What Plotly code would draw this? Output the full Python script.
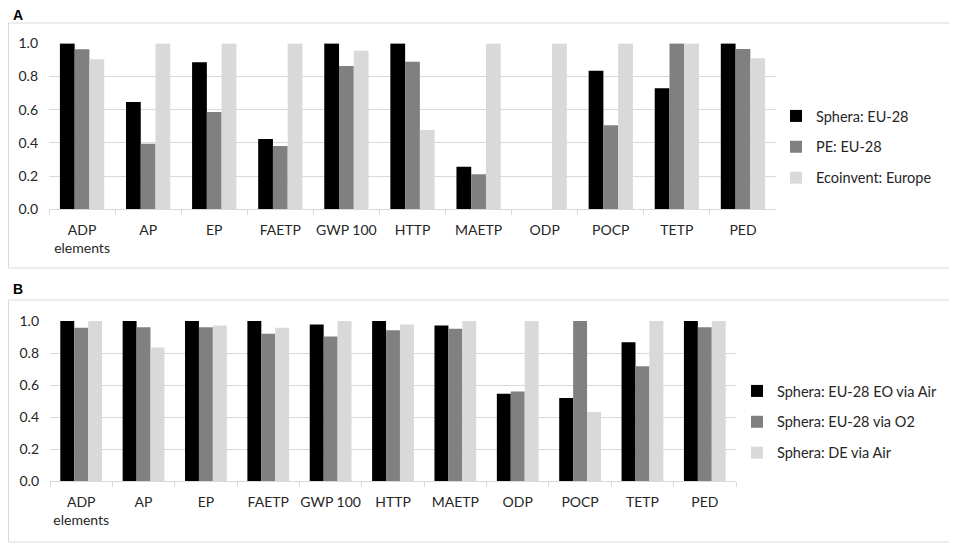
import plotly.graph_objects as go

# Categories (impact categories), shared by both panels
categories = ['ADP<br>elements', 'AP', 'EP', 'FAETP', 'GWP 100', 'HTTP',
              'MAETP', 'ODP', 'POCP', 'TETP', 'PED']

# Panel A: database comparison (normalised)
a_names = ['Sphera: EU-28', 'PE: EU-28', 'Ecoinvent: Europe']
a_sphera = [1.0, 0.646, 0.886, 0.424, 1.0, 1.0, 0.257, 0.0, 0.835, 0.729, 1.0]
a_pe = [0.964, 0.395, 0.586, 0.381, 0.863, 0.889, 0.211, 0.0, 0.506, 1.0, 0.966]
a_ecoinvent = [0.904, 1.0, 1.0, 1.0, 0.955, 0.478, 1.0, 1.0, 1.0, 1.0, 0.91]

# Panel B: production route comparison (normalised)
b_names = ['Sphera: EU-28 EO via Air', 'Sphera: EU-28 via O2', 'Sphera: DE via Air']
b_eu_air = [1.0, 1.0, 1.0, 1.0, 0.979, 1.0, 0.973, 0.546, 0.519, 0.867, 1.0]
b_eu_o2 = [0.958, 0.962, 0.962, 0.921, 0.904, 0.942, 0.952, 0.560, 1.0, 0.717, 0.962]
b_de_air = [1.0, 0.835, 0.973, 0.958, 1.0, 0.979, 1.0, 1.0, 0.431, 1.0, 1.0]

colors = ['#000000', '#808080', '#d9d9d9']
W, H = 957, 546
FONT = 'Lato'
OFF = 8  # the page body margin shifts the figure by 8px


def px_x(v):
    return (v - OFF) / W


def px_y(v):
    return 1 - (v - OFF) / H


fig = go.Figure()

for i, (name, vals) in enumerate(zip(a_names, [a_sphera, a_pe, a_ecoinvent])):
    fig.add_trace(go.Bar(x=categories, y=vals, name=name, marker_color=colors[i],
                         marker_line_width=0, xaxis='x', yaxis='y',
                         legend='legend', legendgroup='a%d' % i))

for i, (name, vals) in enumerate(zip(b_names, [b_eu_air, b_eu_o2, b_de_air])):
    fig.add_trace(go.Bar(x=categories, y=vals, name=name, marker_color=colors[i],
                         marker_line_width=0, xaxis='x2', yaxis='y2',
                         legend='legend2', legendgroup='b%d' % i))

xaxis_style = dict(type='category', showline=True, linecolor='#d9d9d9', linewidth=1,
                   ticks='outside', tickson='boundaries', ticklen=5, tickcolor='#d9d9d9',
                   showgrid=False, tickangle=0, automargin=False, ticklabelstandoff=8,
                   tickfont=dict(size=14, color='#262626', family=FONT))
yaxis_style = dict(range=[0, 1.0005], dtick=0.2, tickformat='.1f', showgrid=True,
                   gridcolor='#d9d9d9', gridwidth=1, zeroline=False, showline=False,
                   ticks='', automargin=False, ticklabelstandoff=10,
                   tickfont=dict(size=14, color='#262626', family=FONT))

legend_style = dict(xanchor='left', yanchor='middle', bgcolor='rgba(0,0,0,0)',
                    font=dict(size=14.5, color='#262626', family=FONT), tracegroupgap=9,
                    itemwidth=30, traceorder='grouped')

fig.update_layout(
    width=W, height=H,
    margin=dict(l=0, r=0, t=0, b=0),
    paper_bgcolor='white', plot_bgcolor='white',
    barmode='group', bargap=0.33, bargroupgap=0,
    font=dict(family=FONT, color='#262626'),
    xaxis=dict(domain=[px_x(49), px_x(776)], anchor='y', **xaxis_style),
    yaxis=dict(domain=[px_y(209.3), px_y(43.3)], anchor='x', **yaxis_style),
    xaxis2=dict(domain=[px_x(50), px_x(736)], anchor='y2', **xaxis_style),
    yaxis2=dict(domain=[px_y(481), px_y(321)], anchor='x2', **yaxis_style),
    legend=dict(x=px_x(776), y=px_y(147), **legend_style),
    legend2=dict(x=px_x(737), y=px_y(422), **legend_style),
    showlegend=True,
)

# Panel frames
fig.add_shape(type='rect', xref='paper', yref='paper', x0=px_x(8.5), x1=px_x(954),
              y0=px_y(268), y1=px_y(23), line=dict(color='#d9d9d9', width=1))
fig.add_shape(type='rect', xref='paper', yref='paper', x0=px_x(8.5), x1=px_x(954),
              y0=px_y(542), y1=px_y(300), line=dict(color='#d9d9d9', width=1))

# Panel letters
for letter, ypx in [('A', 15), ('B', 289)]:
    fig.add_annotation(text='<b>%s</b>' % letter, xref='paper', yref='paper',
                       x=px_x(11), y=px_y(ypx), xanchor='left', yanchor='middle',
                       showarrow=False, font=dict(size=14, color='#000000', family='Liberation Sans'))

fig.write_html('out.html')
